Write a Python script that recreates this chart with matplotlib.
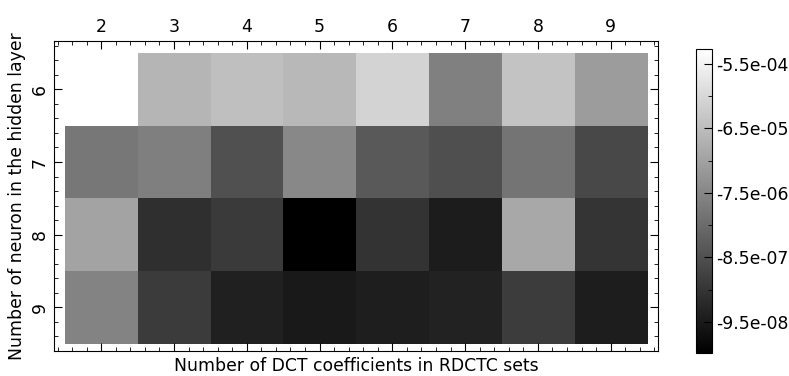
import numpy as np
import matplotlib
matplotlib.use("Agg")
import matplotlib.pyplot as plt
from matplotlib.ticker import MultipleLocator, FixedLocator

# number of DCT coefficients (columns) and hidden neurons (rows)
dct_coeffs = [2, 3, 4, 5, 6, 7, 8, 9]
hidden_neurons = [6, 7, 8, 9]

# values (log scale error)
row_6 = [-5.27, -6.64, -6.45, -6.58, -6.08, -7.62, -6.38, -7.10]
row_7 = [-7.78, -7.63, -8.50, -7.47, -8.34, -8.52, -7.84, -8.65]
row_8 = [-6.97, -9.11, -8.91, -9.98, -9.04, -9.46, -6.88, -9.00]
row_9 = [-7.54, -8.89, -9.39, -9.52, -9.41, -9.35, -8.85, -9.44]

cbar_ticks = [-5.5, -6.5, -7.5, -8.5, -9.5]
cbar_labels = ["-5.5e-04", "-6.5e-05", "-7.5e-06", "-8.5e-07", "-9.5e-08"]

plt.rcParams['font.family'] = 'DejaVu Sans'
plt.rcParams['font.size'] = 12.4

data = np.array([row_6, row_7, row_8, row_9])

fig = plt.figure(figsize=(7.89, 3.76), dpi=100)
ax = fig.add_axes([0.0684, 0.0665, 0.7656, 0.8245])
im = ax.imshow(data, cmap='gray', interpolation='nearest', aspect='auto',
               extent=(dct_coeffs[0] - 0.5, dct_coeffs[-1] + 0.5,
                       hidden_neurons[-1] + 0.5, hidden_neurons[0] - 0.5),
               vmin=data.min(), vmax=data.max())
ax.set_xlim(1.35, 9.65)
ax.set_ylim(9.6, 5.335)

ax.set_xticks(dct_coeffs)
ax.set_yticks(hidden_neurons)
ax.xaxis.set_minor_locator(MultipleLocator(0.2))
ax.yaxis.set_minor_locator(MultipleLocator(0.2))
ax.tick_params(which='both', direction='in', top=True, right=True,
               labeltop=True, labelbottom=False, labelsize=12.4)
ax.tick_params(which='major', length=6, width=0.8)
ax.tick_params(which='minor', length=3, width=0.6)
for lab in ax.get_yticklabels():
    lab.set_rotation(90)
    lab.set_va('center')
ax.set_xlabel("Number of DCT coefficients in RDCTC sets", fontsize=12.4)
ax.set_ylabel("Number of neuron in the hidden layer", fontsize=12.4)

cax = fig.add_axes([0.882, 0.061, 0.0203, 0.809])
cb = fig.colorbar(im, cax=cax)
cb.set_ticks(cbar_ticks)
cb.set_ticklabels(cbar_labels)
cax.yaxis.set_minor_locator(FixedLocator([-6.0, -7.0, -8.0, -9.0]))
cax.tick_params(which='both', direction='in', labelsize=12.4, pad=3)
cax.tick_params(which='major', length=6)
cax.tick_params(which='minor', length=3)

fig.savefig("out.png", dpi=100, facecolor='white')
